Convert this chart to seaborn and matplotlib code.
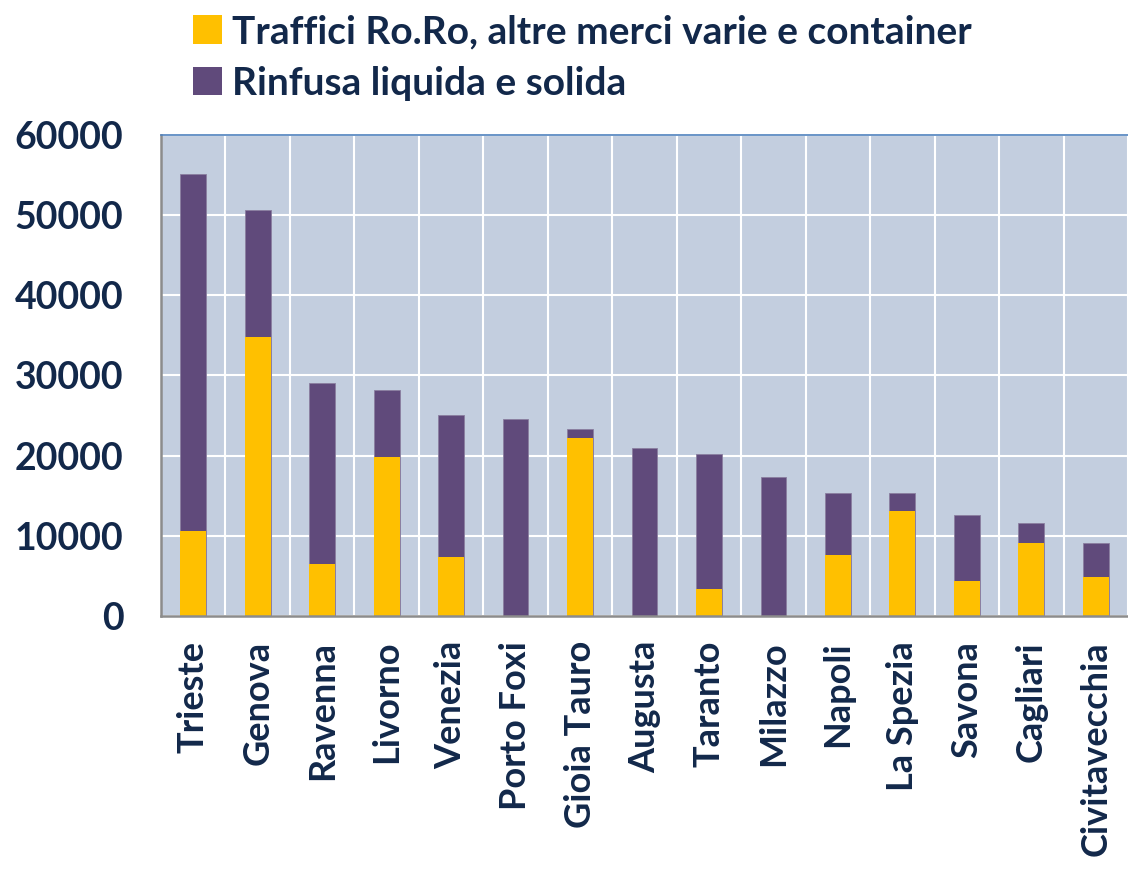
import matplotlib
matplotlib.use("Agg")
import matplotlib.pyplot as plt
from matplotlib.patches import Patch
from matplotlib.ticker import FixedLocator, NullFormatter
import seaborn as sns
import pandas as pd
import numpy as np

# Porti e traffici (migliaia di tonnellate)
porti = ['Trieste', 'Genova', 'Ravenna', 'Livorno', 'Venezia', 'Porto Foxi',
         'Gioia Tauro', 'Augusta', 'Taranto', 'Milazzo', 'Napoli', 'La Spezia',
         'Savona', 'Cagliari', 'Civitavecchia']
roro_container = [10600, 34800, 6500, 19800, 7400, 0,
                  22200, 0, 3400, 0, 7600, 13100,
                  4400, 9100, 4900]
rinfusa = [44500, 15800, 22600, 8400, 17700, 24600,
           1100, 21000, 16800, 17300, 7800, 2300,
           8200, 2500, 4200]

serie = ['Traffici Ro.Ro, altre merci varie e container', 'Rinfusa liquida e solida']
GIALLO = '#FFC000'
VIOLA = '#604A7B'
TESTO = '#12284A'
SFONDO = '#C3CEDF'


def main():
    sns.set_style('white')
    plt.rcParams['font.family'] = ['Lato', 'DejaVu Sans']

    df = pd.DataFrame({'porto': porti, 'roro': roro_container, 'rinfusa': rinfusa})
    df['totale'] = df['roro'] + df['rinfusa']

    fig = plt.figure(figsize=(11.28, 8.71), dpi=100)
    ax = fig.add_axes([0.1427, 0.2928, 0.8573, 0.5522])
    ax.set_facecolor(SFONDO)

    # barre impilate: prima il totale (viola), poi la parte gialla sopra
    sns.barplot(data=df, x='porto', y='totale', color=VIOLA, width=0.4,
                saturation=1, ax=ax, edgecolor='#8A7FA0', linewidth=0.6)
    sns.barplot(data=df, x='porto', y='roro', color=GIALLO, width=0.4,
                saturation=1, ax=ax, linewidth=0)

    n = len(porti)
    ax.set_xlim(-0.5, n - 0.5)
    ax.set_ylim(0, 60000)
    ax.set_yticks(np.arange(0, 60001, 10000))
    ax.set_xlabel('')
    ax.set_ylabel('')

    # griglia bianca: orizzontale sui tick, verticale tra le categorie
    ax.xaxis.set_minor_locator(FixedLocator(np.arange(-0.5, n, 1.0)))
    ax.xaxis.set_minor_formatter(NullFormatter())
    ax.grid(True, axis='y', which='major', color='white', linewidth=1.5)
    ax.grid(True, axis='x', which='minor', color='white', linewidth=1.5)
    ax.set_axisbelow(True)

    ax.tick_params(axis='x', which='major', length=0, pad=18, labelsize=26,
                   labelcolor=TESTO, labelrotation=90)
    ax.tick_params(axis='x', which='minor', length=13, width=1.2, color='#8C8C8C',
                   direction='out')
    ax.tick_params(axis='y', length=13, width=1.2, color='#8C8C8C', direction='out',
                   pad=14, labelsize=27, labelcolor=TESTO)
    for lab in ax.get_xticklabels() + ax.get_yticklabels():
        lab.set_fontweight('bold')
    for lab in ax.get_xticklabels():
        lab.set_va('top')

    for lato in ['left', 'bottom']:
        ax.spines[lato].set_color('#8C8C8C')
        ax.spines[lato].set_linewidth(1.8)
    ax.spines['top'].set_color('#4F81BD')
    ax.spines['top'].set_linewidth(1.2)
    ax.spines['right'].set_visible(False)

    maniglie = [Patch(facecolor=GIALLO, edgecolor='none'),
                Patch(facecolor=VIOLA, edgecolor='none')]
    fig.legend(maniglie, serie, loc='upper left', bbox_to_anchor=(0.154, 1.006),
               frameon=False, borderpad=0, handlelength=0.75, handleheight=0.75,
               handletextpad=0.25, labelspacing=0.42,
               prop={'family': 'Lato', 'weight': 'bold', 'size': 28},
               labelcolor=TESTO)

    fig.savefig('out.png', dpi=100)
    plt.close(fig)


if __name__ == '__main__':
    main()
